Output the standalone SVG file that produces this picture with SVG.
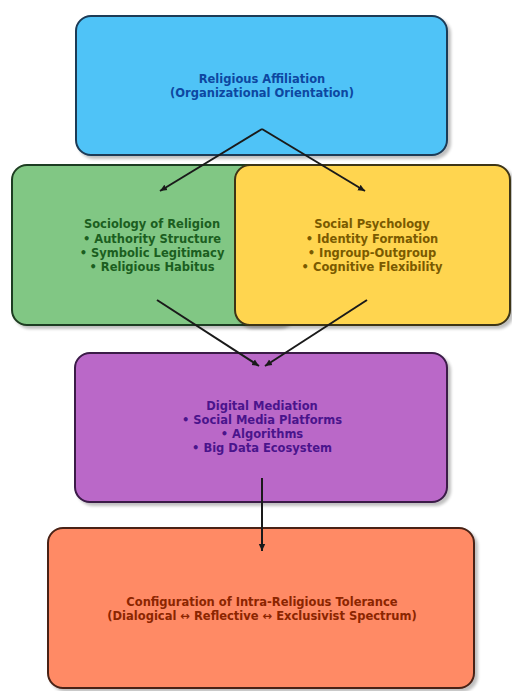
<svg xmlns="http://www.w3.org/2000/svg" width="512" height="691" viewBox="0 0 512 691">
<defs>
<filter id="sh" x="-10%" y="-10%" width="130%" height="130%">
<feGaussianBlur in="SourceAlpha" stdDeviation="1.5"/>
<feOffset dx="3" dy="3" result="b"/>
<feComponentTransfer><feFuncA type="linear" slope="0.25"/></feComponentTransfer>
<feMerge><feMergeNode/><feMergeNode in="SourceGraphic"/></feMerge>
</filter>
<marker id="ah" markerWidth="8" markerHeight="8" refX="7" refY="4" orient="auto" markerUnits="userSpaceOnUse">
<path d="M0,0.8 L7,4 L0,7.2 Z" fill="#1a1a1a"/>
</marker>
</defs>
<style>
.box{stroke-width:2;filter:url(#sh)}
text{font-family:"DejaVu Sans",sans-serif;font-size:11.5px;font-weight:bold;text-anchor:middle;dominant-baseline:central}
.con{stroke:#1a1a1a;stroke-width:2;fill:none;marker-end:url(#ah)}
</style>
<rect width="512" height="691" fill="#ffffff"/>
<g id="node-affiliation">
<rect class="box" x="76" y="16" width="371" height="139" rx="15" fill="#4FC3F7" stroke="#1c3b57"/>
<text fill="#0D47A1" x="262" y="79">Religious Affiliation</text>
<text fill="#0D47A1" x="262" y="93">(Organizational Orientation)</text>
</g>
<g id="node-sociology">
<rect class="box" x="12" y="165" width="280" height="160" rx="15" fill="#81C784" stroke="#1f3d20"/>
<text fill="#1B5E20" x="152" y="224">Sociology of Religion</text>
<text fill="#1B5E20" x="152" y="239">• Authority Structure</text>
<text fill="#1B5E20" x="152" y="253">• Symbolic Legitimacy</text>
<text fill="#1B5E20" x="152" y="267">• Religious Habitus</text>
</g>
<g id="node-psychology">
<rect class="box" x="235" y="165" width="275" height="160" rx="15" fill="#FFD54F" stroke="#3d3418"/>
<text fill="#7a5a00" x="372" y="224">Social Psychology</text>
<text fill="#7a5a00" x="372" y="239">• Identity Formation</text>
<text fill="#7a5a00" x="372" y="253">• Ingroup-Outgroup</text>
<text fill="#7a5a00" x="372" y="267">• Cognitive Flexibility</text>
</g>
<g id="node-digital">
<rect class="box" x="75" y="353" width="372" height="149" rx="15" fill="#BA68C8" stroke="#3a1a47"/>
<text fill="#4A148C" x="262" y="406">Digital Mediation</text>
<text fill="#4A148C" x="262" y="420">• Social Media Platforms</text>
<text fill="#4A148C" x="262" y="434">• Algorithms</text>
<text fill="#4A148C" x="262" y="448">• Big Data Ecosystem</text>
</g>
<g id="node-tolerance">
<rect class="box" x="48" y="528" width="426" height="160" rx="15" fill="#FF8A65" stroke="#4a2418"/>
<text fill="#8B2500" x="262" y="602">Configuration of Intra-Religious Tolerance</text>
<text fill="#8B2500" x="262" y="616">(Dialogical ↔ Reflective ↔ Exclusivist Spectrum)</text>
</g>
<g id="connectors">
<line class="con" x1="262" y1="129" x2="160" y2="191"/>
<line class="con" x1="262" y1="129" x2="365" y2="191"/>
<line class="con" x1="157" y1="300" x2="259" y2="366"/>
<line class="con" x1="367" y1="300" x2="265" y2="366"/>
<line class="con" x1="262" y1="478" x2="262" y2="551"/>
</g>
</svg>
